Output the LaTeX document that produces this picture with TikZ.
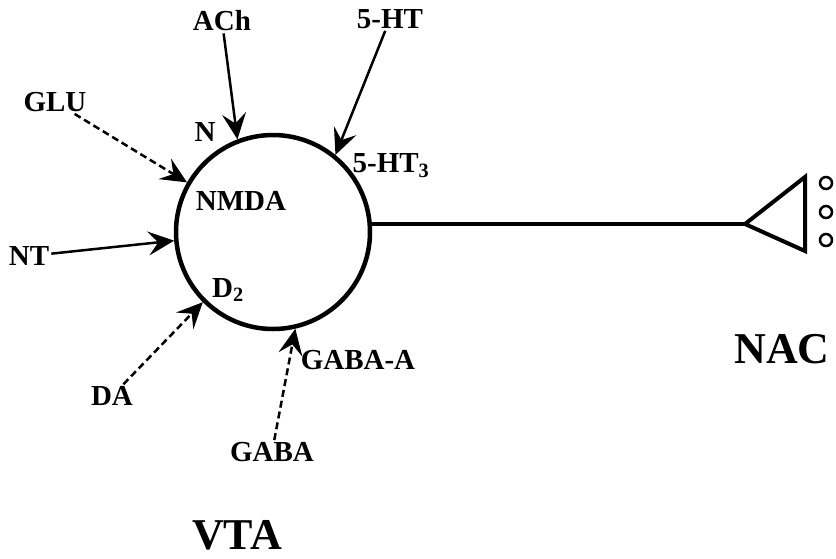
\documentclass[tikz,border=0pt]{standalone}
\usepackage{fontspec}
\setmainfont{Liberation Serif}
\usetikzlibrary{arrows.meta}

\begin{document}
\begin{tikzpicture}[x=1pt,y=-1pt,
    lbl/.style={font=\bfseries\fontsize{29}{31}\selectfont,inner sep=2pt},
    big/.style={font=\bfseries\fontsize{44}{46}\selectfont,inner sep=0pt},
    syn/.style={line width=2.5pt,-{Stealth[length=26pt,width=24pt,inset=10pt]}},
    weak/.style={syn,dash pattern=on 7pt off 4pt},
    vesicle/.style={draw,circle,line width=2.5pt,minimum size=12pt,inner sep=0pt}]
    \useasboundingbox (0,0) rectangle (836,558);
    \node[draw,circle,line width=4.5pt,minimum size=194pt,inner sep=0pt] (cell) at (273,232) {};

    \node[lbl] (ach) at (222,21) {ACh};
    \node[lbl] (ht) at (390,19) {5-HT};
    \node[lbl] (glu) at (55,102) {GLU};
    \node[lbl] (nt) at (29,256) {NT};
    \node[lbl] (da) at (112,396) {DA};
    \node[lbl] (gaba) at (272,452) {GABA};

    \node[lbl] (n) at (205,132) {N};
    \node[lbl] (htr) at (391,166) {5-HT\textsubscript{3}};
    \node[lbl] (nmda) at (241,201) {NMDA};
    \node[lbl] (dtwo) at (228,290) {D\textsubscript{2}};
    \node[lbl] (gabaa) at (358,360) {GABA-A};

    \draw[syn] (ach) -- (cell.111);
    \draw[syn] (ht) -- (cell.51);
    \draw[weak] (glu) -- (cell.150);
    \draw[syn] (nt) -- (cell.185);
    \draw[weak] (da) -- (cell.225);
    \draw[weak] (gaba) -- (cell.283);

    \coordinate (tip) at (745,224);
    \draw[line width=3.5pt] (tip -| cell.east) -- (tip);
    \draw[line width=4pt,line join=miter] (tip) -- (805,177) -- (805,251) -- cycle;
    \foreach \y/\k in {183/1,212/2,240/3}
      \node[vesicle] (v\k) at (826,\y) {};

    \node[big] (vta) at (237,535) {VTA};
    \node[big] (nac) at (782,349) {NAC};
\end{tikzpicture}
\end{document}
